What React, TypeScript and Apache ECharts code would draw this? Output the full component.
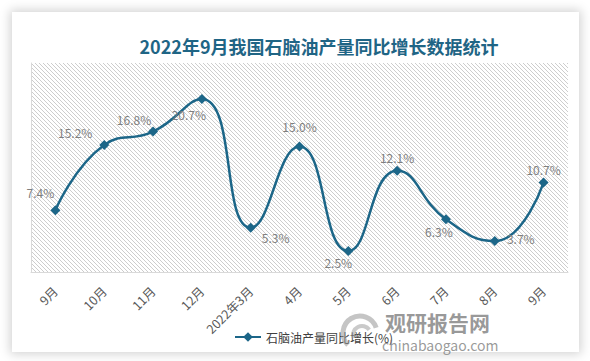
import React, { useEffect, useRef } from "react";
import * as echarts from "echarts";

const titleText = "2022年9月我国石脑油产量同比增长数据统计";
const seriesName = "石脑油产量同比增长(%)";
const categories = ["9月", "10月", "11月", "12月", "2022年3月", "4月", "5月", "6月", "7月", "8月", "9月"];
const values = [7.4, 15.2, 16.8, 20.7, 5.3, 15.0, 2.5, 12.1, 6.3, 3.7, 10.7];
// label placement (pixel offsets from each marker), styling only
const labelOffsets: [number, number][] = [
  [-15, -18], [-29, -12], [-19, -12], [-13, 16], [25, 10], [0, -20],
  [-10, 11], [0, -13], [-7, 12], [26, -3], [0, -13],
];

const FONT = "'Noto Sans CJK SC', 'Noto Sans', sans-serif";
const LINE = "#1c6688";

export default function App() {
  const ref = useRef<HTMLDivElement>(null);
  useEffect(() => {
    if (!ref.current) return;
    const chart = echarts.init(ref.current, undefined, { renderer: "svg" });

    const c = document.createElement("canvas");
    c.width = 4;
    c.height = 4;
    const ctx = c.getContext("2d")!;
    ctx.fillStyle = "#ffffff";
    ctx.fillRect(0, 0, 4, 4);
    ctx.fillStyle = "#cdcdcd";
    for (let i = 0; i < 4; i++) ctx.fillRect(i, i, 1, 1);
    const hatch = { image: c.toDataURL(), repeat: "repeat", imageWidth: 4, imageHeight: 4 };

    chart.setOption({
      animation: false,
      textStyle: { fontFamily: FONT },
      grid: {
        show: true,
        left: 31,
        right: 22,
        top: 63,
        bottom: 89,
        backgroundColor: hatch as any,
        borderWidth: 0,
      },
      legend: {
        data: [seriesName],
        left: 229,
        top: 326,
        itemWidth: 26,
        itemHeight: 12,
        itemGap: 4,
        textStyle: { color: "#404040", fontSize: 12, fontFamily: FONT },
      },
      xAxis: {
        type: "category",
        data: categories,
        boundaryGap: true,
        axisLine: { show: true, lineStyle: { color: "#d9d9d9", width: 1 } },
        axisTick: { show: false },
        axisLabel: { rotate: 45, fontSize: 12.5, color: "#595959", margin: 17, interval: 0, fontFamily: FONT },
        splitLine: { show: false },
      },
      yAxis: {
        type: "value",
        min: 0,
        max: 25,
        axisLine: { show: true, lineStyle: { color: "#d9d9d9", width: 1 } },
        axisTick: { show: false },
        axisLabel: { show: false },
        splitLine: { show: false },
      },
      series: [
        {
          name: seriesName,
          type: "line",
          smooth: 0.5,
          data: values.map((v, i) => ({
            value: v,
            label: { offset: labelOffsets[i] },
          })),
          symbol: "diamond",
          symbolSize: 10,
          lineStyle: { color: LINE, width: 2.5 },
          itemStyle: { color: LINE },
          label: {
            show: true,
            position: "inside",
            align: "center",
            verticalAlign: "middle",
            color: "#7f7f7f",
            fontSize: 12,
            fontFamily: FONT,
            formatter: (p: any) => p.value.toFixed(1) + "%",
          },
        },
      ],
      graphic: [
        {
          type: "text",
          x: 319,
          y: 46,
          style: {
            text: titleText,
            fill: "#1f6585",
            font: `bold 18px ${FONT}`,
            align: "center",
            verticalAlign: "middle",
            textAlign: "center",
            textVerticalAlign: "middle",
          } as any,
        },
        {
          type: "arc",
          shape: { cx: 360, cy: 333, r: 17, startAngle: Math.PI * 0.75, endAngle: Math.PI * 1.9 },
          style: { stroke: "rgba(150,150,150,0.55)", lineWidth: 5, fill: "none" },
          z: 10,
        },
        {
          type: "arc",
          shape: { cx: 362, cy: 335, r: 9, startAngle: Math.PI * 0.9, endAngle: Math.PI * 1.8 },
          style: { stroke: "rgba(150,150,150,0.5)", lineWidth: 4, fill: "none" },
          z: 10,
        },
        {
          type: "text",
          x: 385,
          y: 322,
          style: {
            text: "观研报告网",
            fill: "rgba(120,120,120,0.75)",
            font: `bold 21px ${FONT}`,
            align: "left",
            verticalAlign: "middle",
            textAlign: "left",
            textVerticalAlign: "middle",
          } as any,
          z: 10,
        },
        {
          type: "text",
          x: 382,
          y: 345,
          style: {
            text: "chinabaogao.com",
            fill: "rgba(120,120,120,0.75)",
            font: `14px ${FONT}`,
            align: "left",
            verticalAlign: "middle",
            textAlign: "left",
            textVerticalAlign: "middle",
          } as any,
          z: 10,
        },
      ],
    });
    return () => chart.dispose();
  }, []);

  return (
    <div style={{ position: "fixed", left: 0, top: 0, width: 590, height: 361, background: "#ffffff", overflow: "hidden" }}>
      <div
        style={{
          position: "absolute",
          left: 12,
          top: 12,
          width: 567,
          height: 340,
          background: "#ffffff",
          boxShadow: "0 0 10px 2px rgba(0,0,0,0.18)",
        }}
      />
      <div ref={ref} style={{ position: "absolute", left: 0, top: 0, width: 590, height: 361 }} />
    </div>
  );
}
